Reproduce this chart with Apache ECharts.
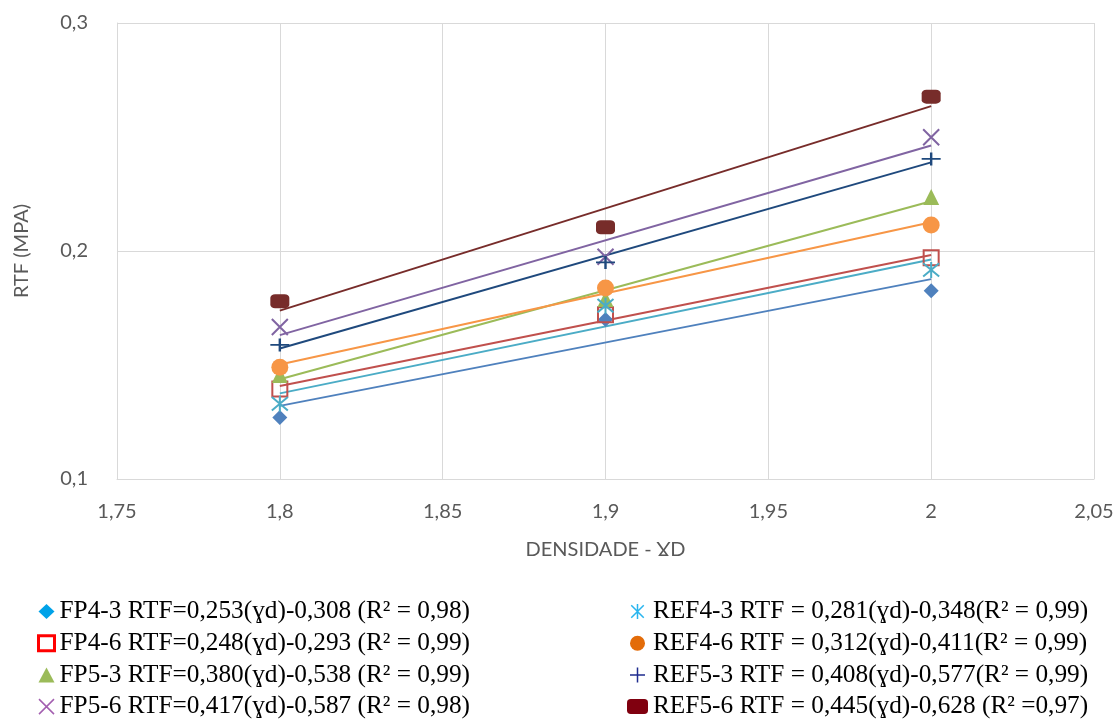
<!DOCTYPE html>
<html>
<head>
<meta charset="utf-8">
<script src="https://cdn.jsdelivr.net/npm/echarts@6/dist/echarts.min.js"></script>
<style>html,body{margin:0;padding:0;background:#fff}#c{width:1119px;height:720px}</style>
</head>
<body>
<div id="c"></div>
<script>
const densities = [1.8, 1.9, 2.0];
const seriesNames = [
  'FP4-3 RTF=0,253(ɣd)-0,308 (R² = 0,98)',
  'FP4-6 RTF=0,248(ɣd)-0,293 (R² = 0,99)',
  'FP5-3 RTF=0,380(ɣd)-0,538 (R² = 0,99)',
  'FP5-6 RTF=0,417(ɣd)-0,587 (R² = 0,98)',
  'REF4-3 RTF = 0,281(ɣd)-0,348(R² = 0,99)',
  'REF4-6 RTF = 0,312(ɣd)-0,411(R² = 0,99)',
  'REF5-3 RTF = 0,408(ɣd)-0,577(R² = 0,99)',
  'REF5-6 RTF = 0,445(ɣd)-0,628 (R² =0,97)'
];
const fp43 = [0.127, 0.170, 0.1826];
const fp46 = [0.1395, 0.172, 0.197];
const fp53 = [0.1456, 0.179, 0.2237];
const fp56 = [0.1667, 0.1975, 0.2499];
const ref43 = [0.133, 0.176, 0.1917];
const ref46 = [0.149, 0.1838, 0.2114];
const ref53 = [0.1588, 0.195, 0.2404];
const ref56 = [0.178, 0.2104, 0.2677];
const xTicks = [1.75, 1.8, 1.85, 1.9, 1.95, 2.0, 2.05];
const yTicks = [0.1, 0.2, 0.3];

const allValues = [fp43, fp46, fp53, fp56, ref43, ref46, ref53, ref56];
const colors = ['#4F81BD', '#C0504D', '#9BBB59', '#8064A2', '#4BACC6', '#F79646', '#1F497D', '#772C2A'];
const legendColors = ['#00A2E8', '#FF0000', '#9BBB59', '#A35FB0', '#29B5EE', '#E36C09', '#1F2C8F', '#80000F'];
const P_X = 'path://M0,0L10,10M10,0L0,10';
const P_AST = 'path://M0,0L10,10M10,0L0,10M5,-1L5,11';
const P_PLUS = 'path://M0,5L10,5M5,0L5,10';
const symbols = ['diamond', 'rect', 'triangle', P_X, P_AST, 'circle', P_PLUS, 'roundRect'];
const sizes = [15, 15, 16, 16, 16, 17, [19, 13], [19, 14]];
const strokeOnly = [false, true, false, true, true, false, true, false];

function fit(ys) {
  const n = ys.length;
  const mx = densities.reduce((a, b) => a + b, 0) / n;
  const my = ys.reduce((a, b) => a + b, 0) / n;
  let sxy = 0, sxx = 0;
  for (let i = 0; i < n; i++) { sxy += (densities[i] - mx) * (ys[i] - my); sxx += (densities[i] - mx) ** 2; }
  const b = sxy / sxx, a = my - b * mx;
  return [[densities[0], a + b * densities[0]], [densities[n - 1], a + b * densities[n - 1]]];
}

const series = [];
allValues.forEach((vals, i) => {
  series.push({
    name: 'trend' + i, type: 'line', data: fit(vals), showSymbol: false, silent: true,
    lineStyle: { color: colors[i], width: 2 }, z: 2
  });
});
allValues.forEach((vals, i) => {
  const st = strokeOnly[i];
  series.push({
    name: seriesNames[i], type: 'scatter',
    data: vals.map((v, k) => [densities[k], v]),
    symbol: symbols[i], symbolSize: sizes[i],
    itemStyle: st ? { color: 'rgba(0,0,0,0)', borderColor: colors[i], borderWidth: 2, opacity: 1 }
                  : { color: colors[i], opacity: 1 },
    z: 3 + i
  });
});

function legendItem(i) {
  const st = strokeOnly[i];
  return {
    name: seriesNames[i], icon: symbols[i],
    itemStyle: st ? { color: i === 1 ? '#fff' : 'rgba(0,0,0,0)', borderColor: legendColors[i], borderWidth: i === 1 ? 3 : 1.5 }
                  : { color: legendColors[i], borderWidth: 0 }
  };
}

const fmt = v => String(+v.toFixed(2)).replace('.', ',');
const axisFont = { fontFamily: 'Lato, "Open Sans", sans-serif', fontSize: 20, color: '#595959' };
const legendText = { fontFamily: '"Liberation Serif", "Times New Roman", serif', fontSize: 25.3, color: '#000', lineHeight: 25 };

const chart = echarts.init(document.getElementById('c'), null, { renderer: 'canvas' });
chart.setOption({
  animation: false,
  backgroundColor: '#fff',
  grid: { left: 117, right: 25, top: 23, bottom: 241, containLabel: false },
  xAxis: {
    type: 'value', min: xTicks[0], max: xTicks[xTicks.length - 1], interval: 0.05,
    name: 'DENSIDADE - ƔD', nameLocation: 'middle', nameGap: 61,
    nameTextStyle: { fontFamily: axisFont.fontFamily, fontSize: 20, color: '#595959' },
    axisLine: { show: true, lineStyle: { color: '#D9D9D9', width: 1 } },
    axisTick: { show: false },
    axisLabel: { ...axisFont, margin: 23, formatter: fmt },
    splitLine: { show: true, lineStyle: { color: '#D9D9D9', width: 1 } }
  },
  yAxis: {
    type: 'value', min: yTicks[0], max: yTicks[yTicks.length - 1], interval: 0.1,
    name: 'RTF (MPA)', nameLocation: 'middle', nameGap: 85,
    nameTextStyle: { fontFamily: axisFont.fontFamily, fontSize: 20, color: '#595959' },
    axisLine: { show: true, lineStyle: { color: '#D9D9D9', width: 1 } },
    axisTick: { show: false },
    axisLabel: { ...axisFont, margin: 29, formatter: fmt },
    splitLine: { show: true, lineStyle: { color: '#D9D9D9', width: 1 } }
  },
  legend: [
    {
      orient: 'vertical', left: 37, top: 599, height: 140, padding: 0,
      itemWidth: 16, itemHeight: 15, itemGap: 6.7,
      textStyle: legendText, selectedMode: false,
      data: [0, 1, 2, 3].map(legendItem)
    },
    {
      orient: 'vertical', left: 627, top: 599, height: 140, padding: 0,
      itemWidth: 21, itemHeight: 15, itemGap: 6.7,
      textStyle: legendText, selectedMode: false,
      data: [4, 5, 6, 7].map(legendItem)
    }
  ],
  series: series
});
</script>
</body>
</html>
